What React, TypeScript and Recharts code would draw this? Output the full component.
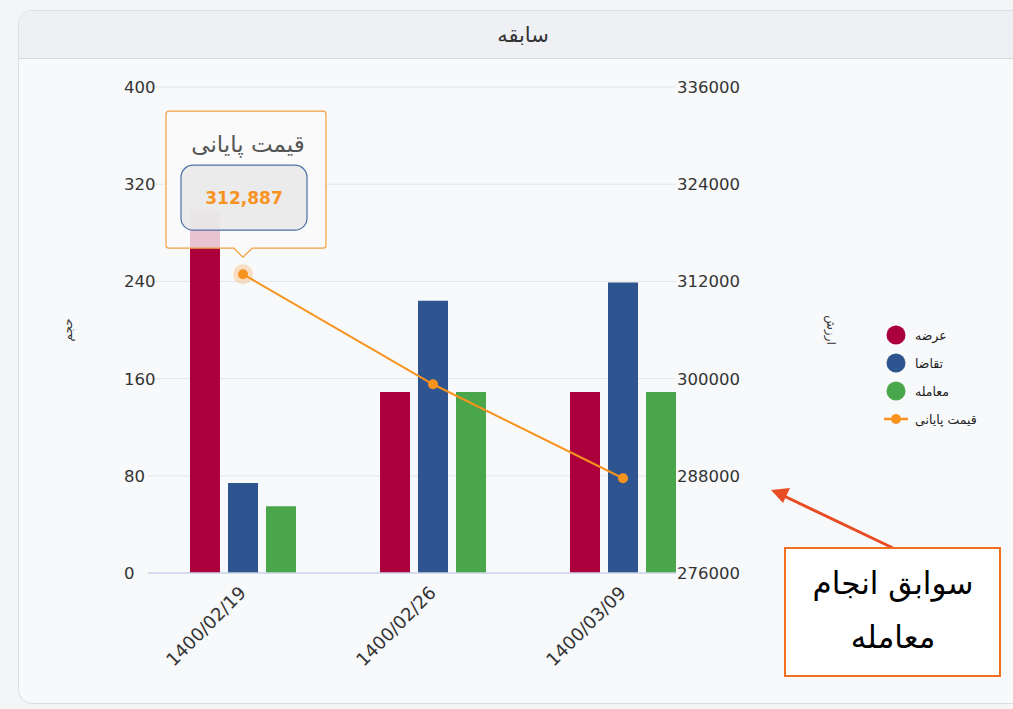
import React from 'react';
import { ComposedChart, Bar, Line, XAxis, YAxis, CartesianGrid, Legend } from 'recharts';

const categories = ['1400/02/19', '1400/02/26', '1400/03/09'];
const supply = [298, 149, 149];
const demand = [74, 224, 239];
const trades = [55, 149, 149];
const closePrice = [312887, 299300, 287700];
const volumeTicks = [0, 80, 160, 240, 320, 400];
const valueTicks = [276000, 288000, 300000, 312000, 324000, 336000];
const seriesNames = ['عرضه', 'تقاضا', 'معامله', 'قیمت پایانی'];
const title = 'سابقه';
const leftAxisTitle = 'حجم';
const rightAxisTitle = 'ارزش';
const annotationLines = ['سوابق انجام', 'معامله'];

const data = categories.map((c, i) => ({
  date: c,
  supply: supply[i],
  demand: demand[i],
  trades: trades[i],
  price: closePrice[i],
}));

const ORANGE = '#f7931e';
const RED = '#ab003b';
const BLUE = '#2f5590';
const GREEN = '#4aa64b';
const seriesColors = [RED, BLUE, GREEN, ORANGE];
const FONT = '"DejaVu Sans", sans-serif';

const fmt = (v: number) => v.toLocaleString('en-US');

function PriceDot(props: any) {
  const { cx, cy, index, value } = props;
  if (cx == null || cy == null) return <g key={`e${index}`} />;
  if (index !== 0) return <circle key={`d${index}`} cx={cx} cy={cy} r={5} fill={ORANGE} />;
  const bw = 160;
  const bh = 137;
  const bx = cx - 77;
  const by = cy - 163;
  const bb = by + bh;
  const path = `M${bx + 3},${by} H${bx + bw - 3} Q${bx + bw},${by} ${bx + bw},${by + 3} V${bb - 3} Q${bx + bw},${bb} ${bx + bw - 3},${bb} H${cx + 9} L${cx},${bb + 9} L${cx - 9},${bb} H${bx + 3} Q${bx},${bb} ${bx},${bb - 3} V${by + 3} Q${bx},${by} ${bx + 3},${by} Z`;
  return (
    <g key={`d${index}`}>
      <circle cx={cx} cy={cy} r={10} fill={ORANGE} fillOpacity={0.25} />
      <circle cx={cx} cy={cy} r={5} fill={ORANGE} />
      <path d={path} fill="rgba(250,250,250,0.78)" stroke="#f2a040" strokeWidth={1.2} />
      <text x={bx + bw / 2 + 2} y={by + 41} textAnchor="middle" fontSize={23} fill="#555" fontFamily={FONT}>
        {seriesNames[3]}
      </text>
      <rect x={cx - 62} y={cy - 109} width={126} height={65} rx={12} fill="rgba(233,233,233,0.92)" stroke="#4f6fa3" strokeWidth={1.2} />
      <text x={cx + 1} y={cy - 70} textAnchor="middle" fontSize={17} fontWeight="bold" fill={ORANGE} fontFamily={FONT}>
        {fmt(value)}
      </text>
    </g>
  );
}

const LeftTick = (props: any) => {
  const { x, y, payload } = props;
  return (
    <text x={x - 24} y={y} dy={6} textAnchor="start" fontSize={16.5} fill="#333" fontFamily={FONT}>
      {payload.value}
    </text>
  );
};

const RightTick = (props: any) => {
  const { x, y, payload } = props;
  return (
    <text x={x} y={y} dy={6} textAnchor="start" fontSize={16.5} fill="#333" fontFamily={FONT}>
      {payload.value}
    </text>
  );
};

const XTick = (props: any) => {
  const { x, y, payload } = props;
  const ax = x + 4;
  const ay = y + 19;
  return (
    <text x={ax} y={ay} transform={`rotate(-45 ${ax} ${ay})`} textAnchor="end" fontSize={18} fill="#333" fontFamily={FONT}>
      {payload.value}
    </text>
  );
};

const LegendContent = () => (
  <div style={{ fontFamily: FONT, fontSize: 12.5, color: '#222' }}>
    {seriesNames.map((n, i) => (
      <div key={n} style={{ display: 'flex', alignItems: 'center', height: 28 }}>
        <svg width={30} height={20} style={{ marginRight: 1 }}>
          {i < 3 ? (
            <circle cx={12} cy={10} r={9.5} fill={seriesColors[i]} />
          ) : (
            <g>
              <line x1={0} x2={24} y1={10} y2={10} stroke={ORANGE} strokeWidth={2.5} />
              <circle cx={12} cy={10} r={5} fill={ORANGE} />
            </g>
          )}
        </svg>
        <span>{n}</span>
      </div>
    ))}
  </div>
);

export default function App() {
  return (
    <div style={{ position: 'fixed', left: 0, top: 0, width: 1013, height: 709, background: '#f4f5f7', overflow: 'hidden' }}>
      <div
        style={{
          position: 'absolute',
          left: 18,
          top: 10,
          width: 1030,
          height: 692,
          border: '1px solid #dcdee2',
          borderRadius: 14,
          background: '#f8f9fb',
          overflow: 'hidden',
        }}
      >
        <div
          style={{
            height: 47,
            background: '#eef0f3',
            borderBottom: '1px solid #d6d8dc',
            display: 'flex',
            alignItems: 'center',
            justifyContent: 'center',
            fontFamily: FONT,
            fontSize: 21,
            color: '#333',
            paddingRight: 22,
          }}
        >
          {title}
        </div>
      </div>
      <div style={{ position: 'absolute', left: 0, top: 0 }}>
        <ComposedChart
          width={1013}
          height={709}
          data={data}
          margin={{ top: 87, left: 58, right: 167, bottom: 76 }}
          barSize={30}
          barGap={8}
        >
          <CartesianGrid vertical={false} stroke="#e3e5e8" yAxisId="left" />
          <XAxis
            dataKey="date"
            height={60}
            padding={{ left: 0, right: -42 }}
            tick={<XTick />}
            tickLine={false}
            tickSize={0}
            axisLine={{ stroke: '#ccd6eb', strokeWidth: 1.5 }}
            interval={0}
          />
          <YAxis
            yAxisId="left"
            orientation="left"
            width={90}
            domain={[0, 400]}
            ticks={volumeTicks}
            tick={<LeftTick />}
            tickLine={false}
            tickSize={0}
            tickMargin={0}
            axisLine={false}
            label={{
              content: (p: any) => {
                const vb = p.viewBox;
                const lx = vb.x + 10;
                const ly = vb.y + vb.height / 2;
                return (
                  <text x={lx} y={ly} transform={`rotate(-90 ${lx} ${ly})`} textAnchor="middle" dominantBaseline="central" fontSize={12} fill="#333" fontFamily={FONT}>
                    {leftAxisTitle}
                  </text>
                );
              },
            }}
          />
          <YAxis
            yAxisId="right"
            orientation="right"
            width={170}
            domain={[276000, 336000]}
            ticks={valueTicks}
            tick={<RightTick />}
            tickLine={false}
            tickSize={0}
            tickMargin={1}
            axisLine={false}
            label={{
              content: (p: any) => {
                const vb = p.viewBox;
                const lx = vb.x + 155;
                const ly = vb.y + vb.height / 2;
                return (
                  <text x={lx} y={ly} transform={`rotate(90 ${lx} ${ly})`} textAnchor="middle" dominantBaseline="central" fontSize={12} fill="#333" fontFamily={FONT}>
                    {rightAxisTitle}
                  </text>
                );
              },
            }}
          />
          <Legend
            layout="vertical"
            align="center"
            verticalAlign="middle"
            content={<LegendContent />}
            wrapperStyle={{ left: 884, top: 321, width: 125 }}
          />
          <Bar yAxisId="left" dataKey="supply" name={seriesNames[0]} fill={RED} isAnimationActive={false} />
          <Bar yAxisId="left" dataKey="demand" name={seriesNames[1]} fill={BLUE} isAnimationActive={false} />
          <Bar yAxisId="left" dataKey="trades" name={seriesNames[2]} fill={GREEN} isAnimationActive={false} />
          <Line
            yAxisId="right"
            dataKey="price"
            name={seriesNames[3]}
            stroke={ORANGE}
            strokeWidth={2}
            dot={PriceDot}
            activeDot={false}
            isAnimationActive={false}
          />
        </ComposedChart>
      </div>
      <svg style={{ position: 'absolute', left: 0, top: 0 }} width={1013} height={709}>
        <line x1={893} y1={548} x2={784} y2={496} stroke="#e84c24" strokeWidth={3} />
        <polygon points="771,490 790,488 783,503" fill="#e84c24" />
        <rect x={785} y={548} width={215} height={128} fill="#ffffff" stroke="#f07020" strokeWidth={2} />
        {annotationLines.map((t, i) => (
          <text key={t} x={893} y={594 + i * 54} textAnchor="middle" fontSize={31} fill="#000" fontFamily={FONT}>
            {t}
          </text>
        ))}
      </svg>
    </div>
  );
}
